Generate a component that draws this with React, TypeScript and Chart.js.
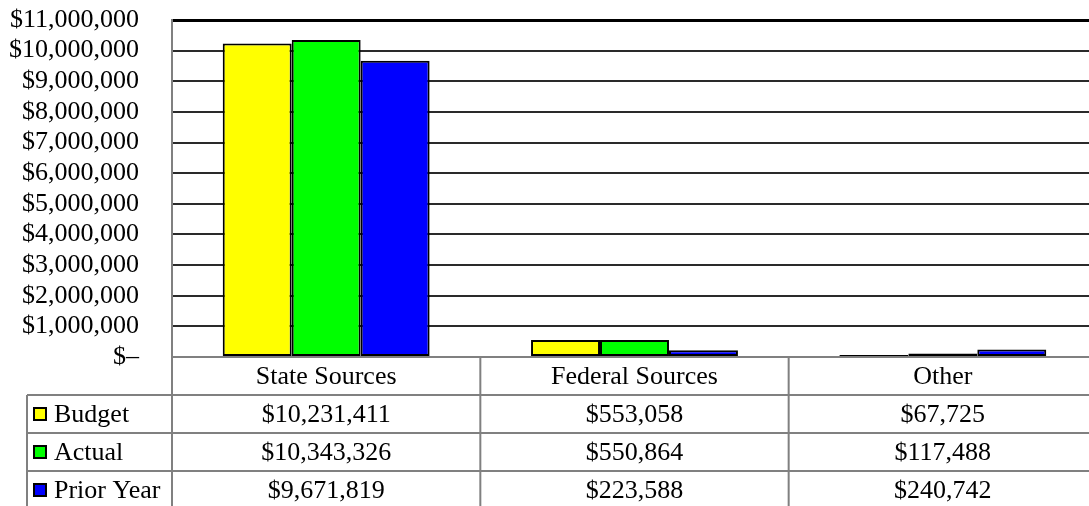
import React, { useEffect, useRef } from "react";
import { Chart, registerables } from "chart.js";

Chart.register(...registerables);

const categories = ["State Sources", "Federal Sources", "Other"];
const seriesNames = ["Budget", "Actual", "Prior Year"];
const budget = [10231411, 553058, 67725];
const actual = [10343326, 550864, 117488];
const priorYear = [9671819, 223588, 240742];
const seriesColors = ["#FFFF00", "#00FF00", "#0000FF"];
const yMax = 11000000;
const yStep = 1000000;

const FONT = '"Liberation Serif", "Times New Roman", serif';

const fmtMoney = (v: number) => (v === 0 ? "$\u2013" : "$" + v.toLocaleString("en-US"));

const tablePlugin = {
  id: "dataTable",
  afterDraw(chart: any) {
    const { ctx, chartArea, scales } = chart;
    const x = scales.x;
    const top = chartArea.bottom;
    const rowH = 38;
    const legendLeft = 27;
    const canvasH = chart.height;
    const canvasW = chart.width;
    const catW = (chartArea.right - chartArea.left) / categories.length;
    const series = [budget, actual, priorYear];

    ctx.save();
    ctx.strokeStyle = "#808080";
    ctx.lineWidth = 2;
    ctx.beginPath();
    for (let r = 1; r <= 3; r++) {
      const y = top + r * rowH;
      ctx.moveTo(legendLeft, y);
      ctx.lineTo(canvasW + 2, y);
    }
    ctx.moveTo(chartArea.left, top);
    ctx.lineTo(chartArea.left, canvasH + 2);
    for (let i = 1; i < categories.length; i++) {
      const xb = chartArea.left + i * catW;
      ctx.moveTo(xb, top);
      ctx.lineTo(xb, canvasH + 2);
    }
    ctx.moveTo(legendLeft, top + rowH);
    ctx.lineTo(legendLeft, canvasH + 2);
    ctx.stroke();

    ctx.fillStyle = "#000";
    ctx.font = "26px " + FONT;
    ctx.textBaseline = "middle";
    ctx.textAlign = "center";
    categories.forEach((c, i) => {
      ctx.fillText(c, x.getPixelForValue(i), top + rowH / 2 + 1);
    });
    series.forEach((vals, r) => {
      const cy = top + rowH * (r + 1) + rowH / 2 + 1;
      vals.forEach((v, i) => {
        ctx.fillText(fmtMoney(v), x.getPixelForValue(i), cy);
      });
    });

    ctx.textAlign = "left";
    seriesNames.forEach((name, r) => {
      const cy = top + rowH * (r + 1) + rowH / 2;
      ctx.fillStyle = seriesColors[r];
      ctx.fillRect(34, cy - 6, 12, 12);
      ctx.strokeStyle = "#000";
      ctx.lineWidth = 2;
      ctx.strokeRect(34, cy - 6, 12, 12);
      ctx.fillStyle = "#000";
      ctx.fillText(name, 54, cy + 1);
    });
    ctx.restore();
  },
};

export default function App() {
  const ref = useRef<HTMLCanvasElement | null>(null);

  useEffect(() => {
    if (!ref.current) return;
    const chart = new Chart(ref.current, {
      type: "bar",
      data: {
        labels: categories,
        datasets: [budget, actual, priorYear].map((d, i) => ({
          label: seriesNames[i],
          data: d,
          backgroundColor: seriesColors[i],
          borderColor: "#000",
          borderWidth: 2,
          borderSkipped: false,
          categoryPercentage: 0.671,
          barPercentage: 1,
        })),
      },
      options: {
        responsive: false,
        animation: false,
        devicePixelRatio: 1,
        layout: { padding: { top: 20, bottom: 149, left: 0, right: 0 } },
        plugins: {
          legend: { display: false },
          tooltip: { enabled: false },
          title: { display: false },
        },
        scales: {
          x: {
            display: false,
            grid: { display: false },
          },
          y: {
            min: 0,
            max: yMax,
            afterFit: (scale: any) => {
              scale.width = 172;
              scale.paddingTop = 0;
              scale.paddingBottom = 0;
            },
            ticks: {
              stepSize: yStep,
              autoSkip: false,
              padding: 33,
              color: "#000",
              font: { family: FONT, size: 26 },
              callback: (v: any) => fmtMoney(Number(v)),
            },
            border: { color: "#808080", width: 2 },
            grid: {
              drawTicks: false,
              color: (c: any) =>
                c.tick && c.tick.value === 0 ? "#808080" : c.tick && c.tick.value === yMax ? "#000" : "#2a2a2a",
              lineWidth: (c: any) => (c.tick && c.tick.value === yMax ? 3 : 2),
            },
          },
        },
      },
      plugins: [tablePlugin],
    });
    return () => chart.destroy();
  }, []);

  return (
    <div style={{ position: "fixed", left: 0, top: 0, width: 1089, height: 506, overflow: "hidden", background: "#fff" }}>
      <canvas ref={ref} width={1097} height={506} style={{ display: "block" }} />
    </div>
  );
}
